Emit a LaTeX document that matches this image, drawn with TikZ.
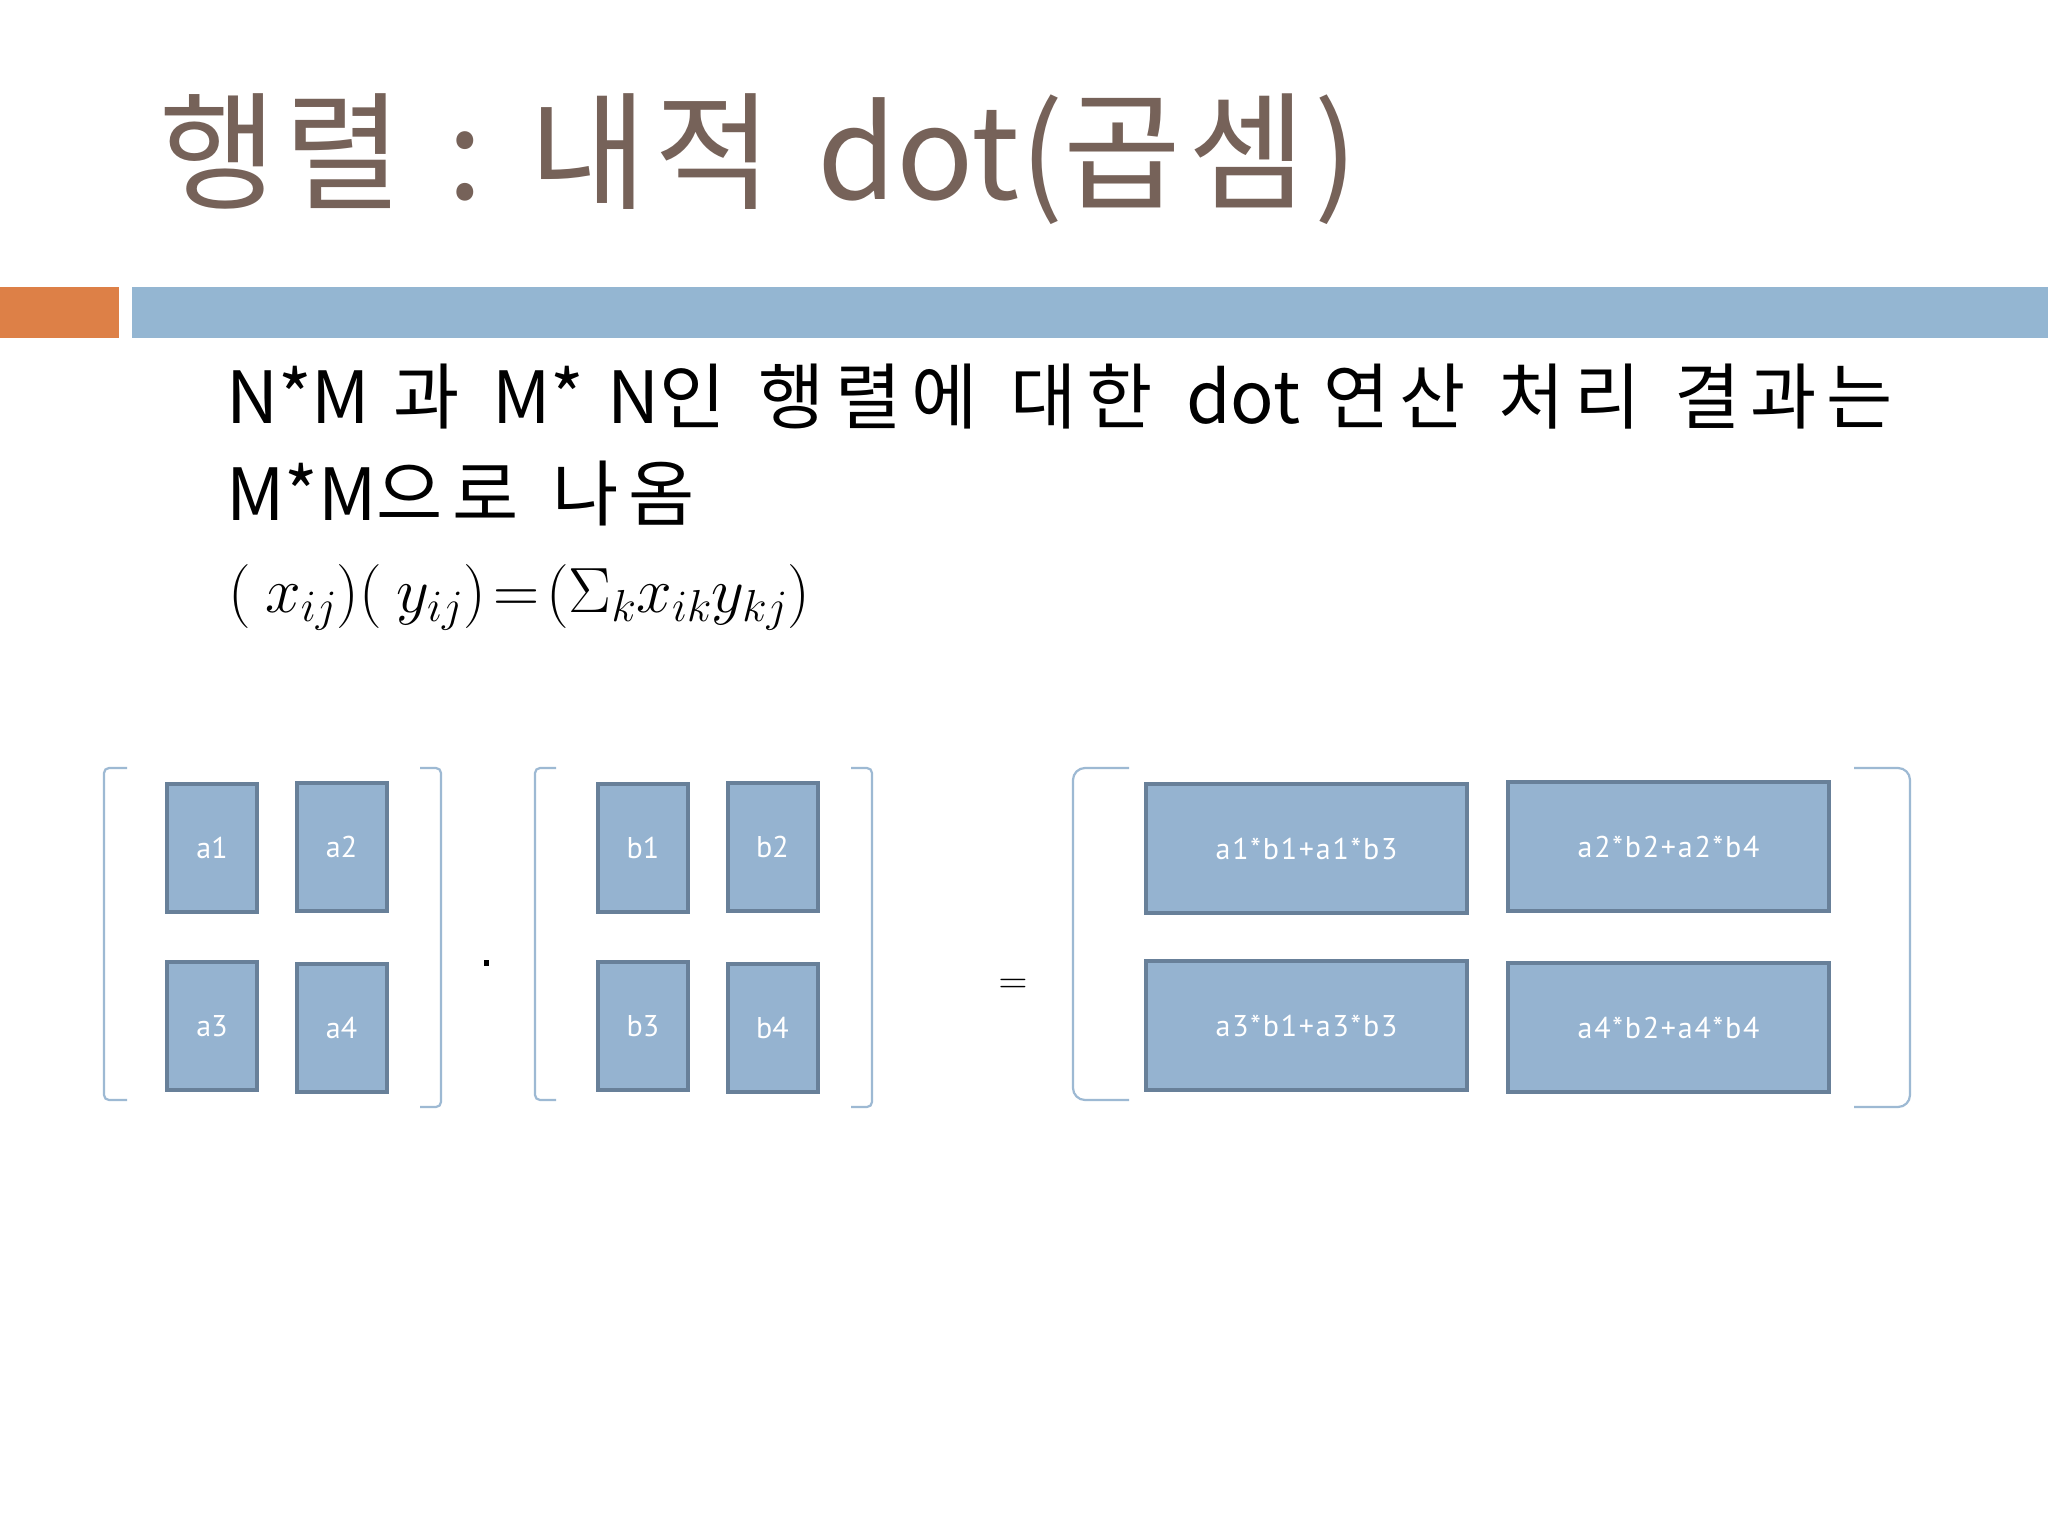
\RequirePackage{fix-cm}
\documentclass[tikz,border=0pt]{standalone}
\usepackage[no-math]{fontspec}
\setmainfont{Noto Sans CJK KR}
\newfontfamily\cellfont{PT Sans}
\definecolor{titlecol}{RGB}{118,98,89}
\definecolor{orangebar}{RGB}{221,128,71}
\definecolor{bluebar}{RGB}{148,182,210}
\definecolor{cellfill}{RGB}{149,179,208}
\definecolor{cellborder}{RGB}{104,128,153}
\definecolor{bracketcol}{RGB}{157,185,211}
% extra advance after each Hangul syllable
\newXeTeXintercharclass\hangulclass
\makeatletter
\count@="AC00
\loop
  \XeTeXcharclass\count@=\hangulclass
  \ifnum\count@<"D7A3 \advance\count@ 1 \repeat
\makeatother
\newdimen\hkdim
\hkdim=0pt
\XeTeXinterchartoks\hangulclass\hangulclass={\kern\hkdim}
\XeTeXinterchartoks\hangulclass 0={\kern\hkdim}
\XeTeXinterchartoks\hangulclass 4095={\kern\hkdim}
\XeTeXinterchartokenstate=1
\newcommand\spaced[3]{{\hkdim=#1\spaceskip=#2\relax #3}}
\tikzset{
  cell/.style={draw=cellborder, line width=4pt, fill=cellfill, text=white,
    font=\cellfont\fontsize{30}{34}\selectfont, inner sep=0pt, minimum width=90pt, minimum height=128pt},
  widecell/.style={cell, minimum width=321pt, minimum height=129pt,
    font=\cellfont\fontsize{30}{34}\selectfont\addfontfeatures{LetterSpace=6}},
  brk/.style={draw=bracketcol, line width=2.2pt, rounded corners=5pt},
  txt/.style={anchor=base west, inner sep=0pt}
}
\begin{document}
\begin{tikzpicture}[x=1pt,y=-1pt]
\useasboundingbox (0,0) rectangle (2048,1536);
\fill[white] (0,0) rectangle (2048,1536);
% title
\node[txt, text=titlecol, font=\fontsize{128}{150}\selectfont] (title) at (159,199) {\spaced{7.7pt}{37pt}{행렬 : 내적 dot(곱셈)}};
% bars
\fill[orangebar] (0,287) rectangle (119,338);
\fill[bluebar] (132,287) rectangle (2048,338);
% body text
\node[txt, font=\fontsize{72}{86}\selectfont] (line1) at (226,423) {\spaced{10pt}{23pt}{N*M 과 M* N인 행렬에 대한 dot 연산 처리 결과는}};
\node[txt, font=\fontsize{72}{86}\selectfont] (line2) at (226,520) {\spaced{10pt}{23pt}{M*M으로 나옴}};
\node[txt, font=\fontsize{64}{72}\selectfont] (formula) at (228,612) {$\thickmuskip=2mu (\ x_{ij})(\ y_{ij})=(\Sigma_k x_{ik}y_{kj})$};
% matrix A
\node[cell] (a1) at (212,848) {a1};
\node[cell] (a2) at (341.5,846.5) {a2};
\node[cell] (a3) at (212,1026) {a3};
\node[cell] (a4) at (341.5,1027.5) {a4};
\draw[brk] (127,768) -- (104,768) -- (104,1100) -- (127,1100);
\draw[brk] (420,768) -- (441,768) -- (441,1107) -- (420,1107);
% dot
\node[fill=black, inner sep=0pt, minimum width=5pt, minimum height=6pt] (dotop) at (486,963) {};
% matrix B
\node[cell] (b1) at (643,848) {b1};
\node[cell] (b2) at (772.5,846.5) {b2};
\node[cell] (b3) at (643,1026) {b3};
\node[cell] (b4) at (772.5,1027.5) {b4};
\draw[brk] (556,768) -- (535,768) -- (535,1100) -- (556,1100);
\draw[brk] (851,768) -- (872,768) -- (872,1107) -- (851,1107);
% equals
\node[font=\fontsize{40}{46}\selectfont, inner sep=0pt] (eq) at (1013,986) {$=$};
% matrix C
\node[widecell] (c1) at (1306.5,848.5) {a1*b1+a1*b3};
\node[widecell] (c2) at (1668.5,846.5) {a2*b2+a2*b4};
\node[widecell] (c3) at (1306.5,1025.5) {a3*b1+a3*b3};
\node[widecell] (c4) at (1668.5,1027.5) {a4*b2+a4*b4};
\draw[brk, rounded corners=12pt] (1129,768) -- (1073,768) -- (1073,1100) -- (1129,1100);
\draw[brk, rounded corners=12pt] (1854,768) -- (1910,768) -- (1910,1107) -- (1854,1107);
\end{tikzpicture}
\end{document}
